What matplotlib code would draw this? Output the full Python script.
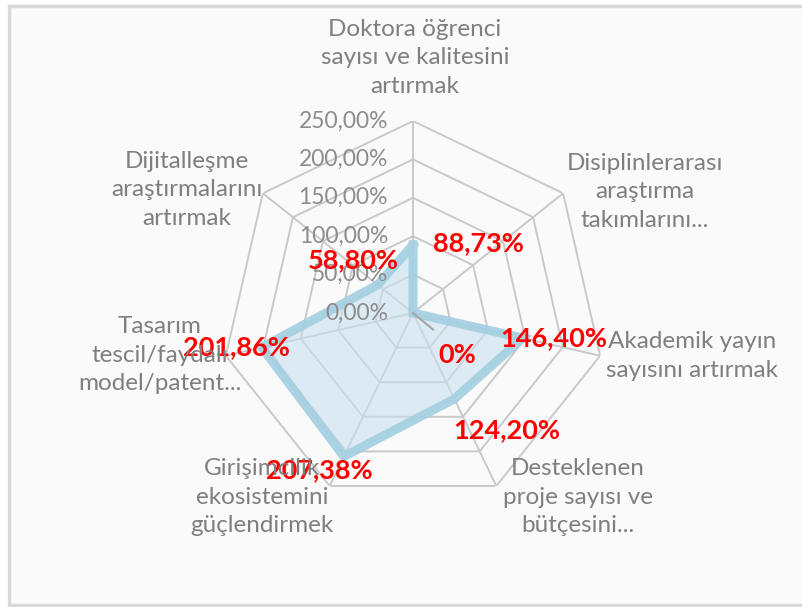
import numpy as np
import matplotlib.pyplot as plt
from matplotlib.patches import Rectangle

# data
categories = [
    "Doktora öğrenci\nsayısı ve kalitesini\nartırmak",
    "Disiplinlerarası\naraştırma\ntakımlarını...",
    "Akademik yayın\nsayısını artırmak",
    "Desteklenen\nproje sayısı ve\nbütçesini...",
    "Girişimcilik\nekosistemini\ngüçlendirmek",
    "Tasarım\ntescil/faydalı\nmodel/patent...",
    "Dijitalleşme\naraştırmalarını\nartırmak",
]
values = [88.73, 0.0, 146.40, 124.20, 207.38, 201.86, 58.80]
value_labels = ["88,73%", "0%", "146,40%", "124,20%", "207,38%", "201,86%", "58,80%"]
rings = [0, 50, 100, 150, 200, 250]
ring_labels = ["0,00%", "50,00%", "100,00%", "150,00%", "200,00%", "250,00%"]

plt.rcParams['font.family'] = ['Lato', 'DejaVu Sans']

W, H = 803, 607
fig = plt.figure(figsize=(W / 100, H / 100), dpi=100)
fig.patch.set_facecolor('white')

# chart frame
fig.patches.append(Rectangle((9 / W, 1 - 605 / H), 800 / W, 599 / H, transform=fig.transFigure,
                             facecolor='#FAFAFA', edgecolor='#D9D9D9', lw=2.5, zorder=-5))

cx, cy, R = 413, 313, 192
ax = fig.add_axes([(cx - R) / W, (H - cy - R) / H, 2 * R / W, 2 * R / H], polar=True)
ax.set_zorder(2)
ax.set_theta_zero_location('N')
ax.set_theta_direction(-1)
ax.set_ylim(0, 250)
ax.grid(False)
ax.spines['polar'].set_visible(False)
ax.set_xticks([])
ax.set_yticks([])
ax.patch.set_alpha(0)

n = len(categories)
theta = np.arange(n) * 2 * np.pi / n
theta_c = np.append(theta, theta[0])

grid_col = '#C9C9C9'
for r in rings[1:]:
    ax.plot(theta_c, [r] * (n + 1), color=grid_col, lw=1.4, zorder=1)
for t in theta:
    ax.plot([t, t], [0, 250], color=grid_col, lw=1.4, zorder=1)

vals_c = np.append(values, values[0])
ax.fill(theta_c, vals_c, color='#C9E0EF', alpha=0.6, zorder=2)
ax.plot(theta_c, vals_c, color='#A3CFE1', lw=6.5, alpha=0.9, zorder=3, solid_joinstyle='miter')

# radial tick labels
for r, lab in zip(rings, ring_labels):
    ax.annotate(lab, (0, r), xytext=(-25, 0), textcoords='offset pixels',
                ha='right', va='center', fontsize=16.5, color='#8C8C8C', zorder=4,
                annotation_clip=False)

# category labels
cat_pos = [(415, 58), (645, 192), (692, 356), (578, 497), (262, 497), (160, 355), (187, 190)]
for lab, (x, y) in zip(categories, cat_pos):
    fig.text(x / W, 1 - y / H, lab, ha='center', va='center', fontsize=17.5,
             color='#7F7F7F', linespacing=1.42)

# data labels
offsets = [(65, 2), (44, -42), (31, 0), (52, -31), (-25, -14), (-25, 0), (-24, 25)]
for t, v, lab, off in zip(theta, values, value_labels, offsets):
    arrow = None
    if v == 0:
        arrow = dict(arrowstyle='-', color='#A6A6A6', lw=1.5, shrinkA=12, shrinkB=0, relpos=(0.3, 1))
    ax.annotate(lab, (t, v), xytext=off, textcoords='offset pixels', ha='center', va='center',
                fontsize=19.5, fontweight='bold', color='#FF0000', zorder=5, arrowprops=arrow,
                annotation_clip=False)

fig.savefig('out.png', dpi=100)
